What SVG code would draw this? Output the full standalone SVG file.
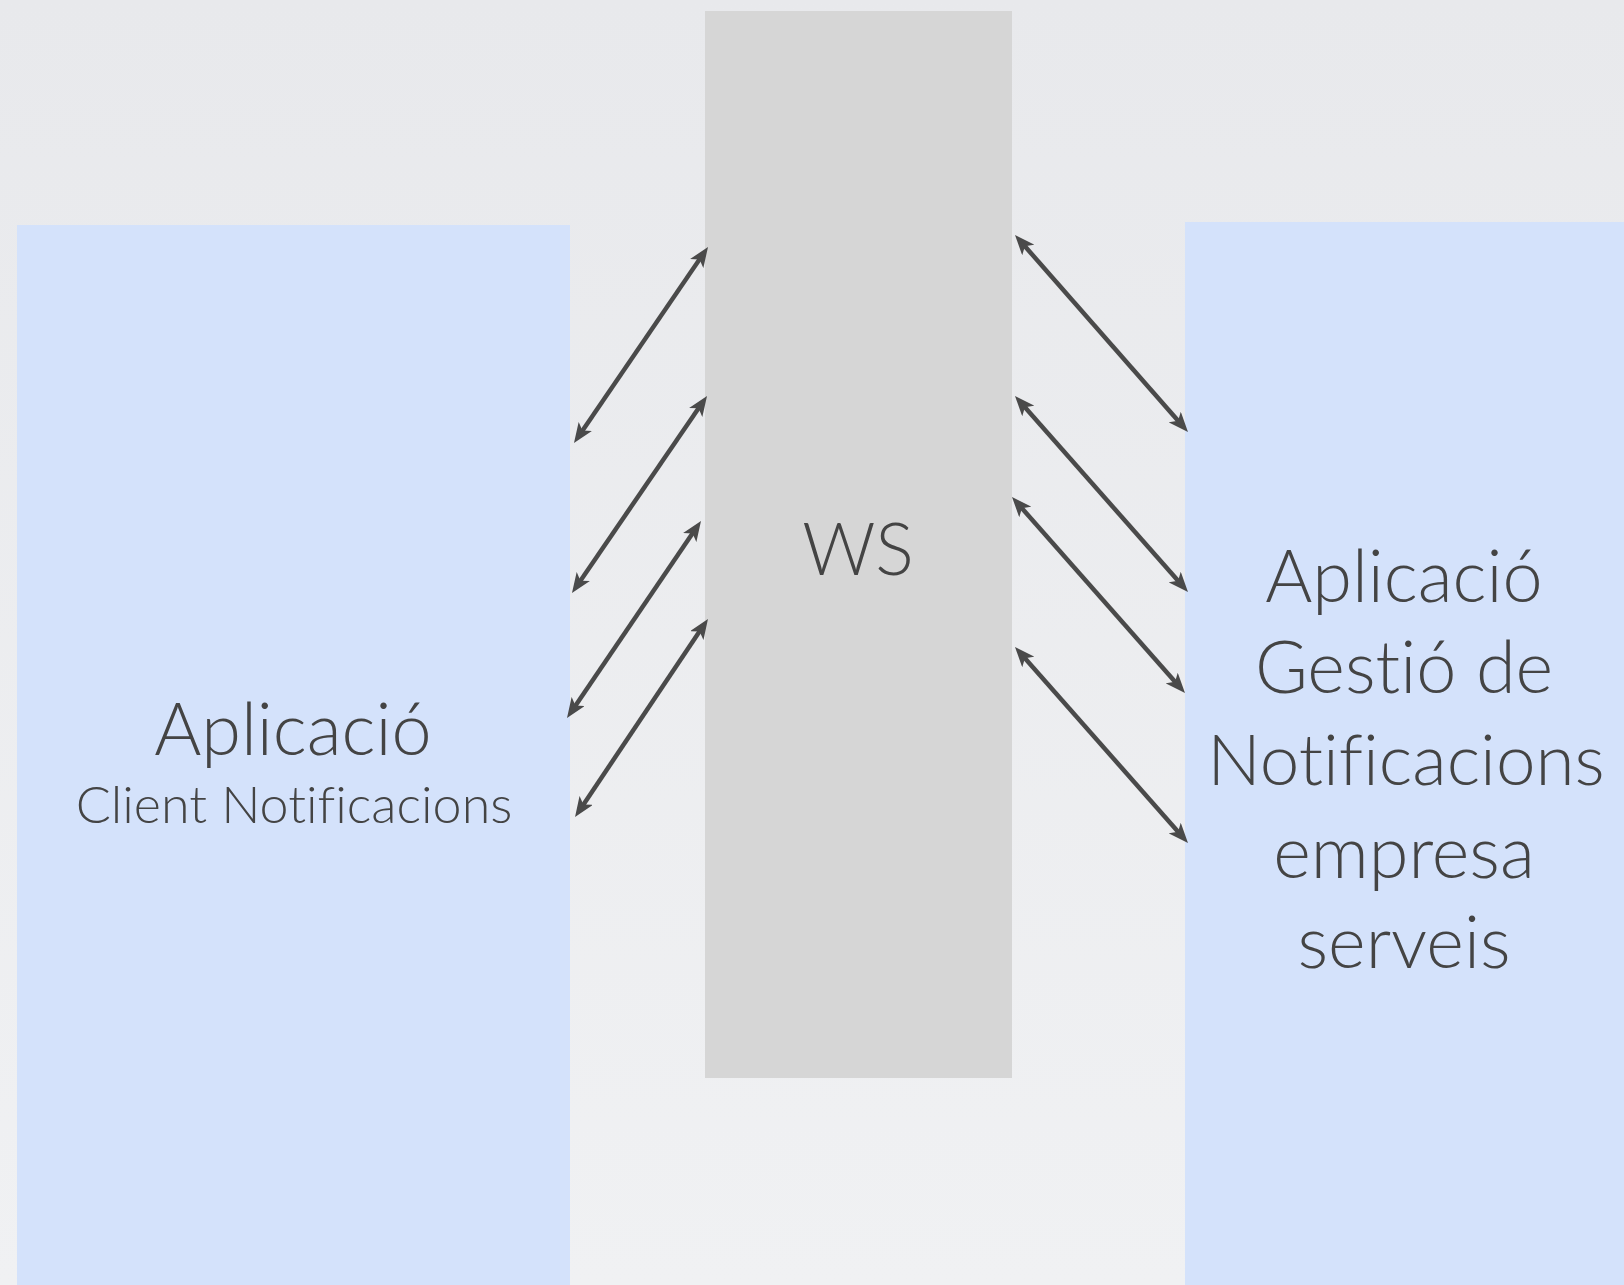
<svg xmlns="http://www.w3.org/2000/svg" width="1624" height="1285" viewBox="0 0 1624 1285">
<defs>
<linearGradient id="bg" x1="0" y1="0" x2="0" y2="1">
<stop offset="0" stop-color="#e8e9ec"/>
<stop offset="1" stop-color="#f0f1f3"/>
</linearGradient>
<marker id="ah" viewBox="0 0 20 16" refX="12" refY="8" markerWidth="20" markerHeight="16" markerUnits="userSpaceOnUse" orient="auto-start-reverse">
<path d="M0,0 L20,8 L0,16 L5,8 Z" fill="#4a4a4a"/>
</marker>
</defs>
<style>
.app{fill:#d4e2fb}
.ws{fill:#d6d6d6}
.t{font-family:Lato,"Open Sans","Liberation Sans",sans-serif;font-weight:300;fill:#444;text-anchor:middle;font-variant-ligatures:none}
.c{stroke:#4a4a4a;stroke-width:4.5;fill:none;marker-start:url(#ah);marker-end:url(#ah)}
</style>
<rect width="1624" height="1285" fill="url(#bg)"/>
<g id="client">
<rect class="app" x="17" y="225" width="553" height="1060"/>
<text class="t" x="293" y="755" font-size="72">Aplicació</text>
<text class="t" x="294" y="823" font-size="52">Client Notificacions</text>
</g>
<g id="ws">
<rect class="ws" x="705" y="11" width="307" height="1067"/>
<text class="t" x="858" y="575" font-size="72">WS</text>
</g>
<g id="gestio">
<rect class="app" x="1185" y="222" width="439" height="1063"/>
<text class="t" x="1404" y="602" font-size="72">Aplicació</text>
<text class="t" x="1404" y="693" font-size="72">Gestió de</text>
<text class="t" x="1406" y="785" font-size="71">Notificacions</text>
<text class="t" x="1404" y="878" font-size="72">empresa</text>
<text class="t" x="1404" y="968" font-size="72">serveis</text>
</g>
<g id="connectors">
<line class="c" x1="578.5" y1="436.4" x2="703.5" y2="253.6"/>
<line class="c" x1="576.5" y1="586.4" x2="702.5" y2="402.6"/>
<line class="c" x1="571.5" y1="711.4" x2="696.5" y2="527.6"/>
<line class="c" x1="579.5" y1="810.4" x2="703.5" y2="625.6"/>
<line class="c" x1="1020.3" y1="241" x2="1182.7" y2="426"/>
<line class="c" x1="1020.3" y1="402" x2="1182.7" y2="586"/>
<line class="c" x1="1017.3" y1="503" x2="1179.7" y2="687"/>
<line class="c" x1="1020.3" y1="653" x2="1182.7" y2="837"/>
</g>
</svg>
